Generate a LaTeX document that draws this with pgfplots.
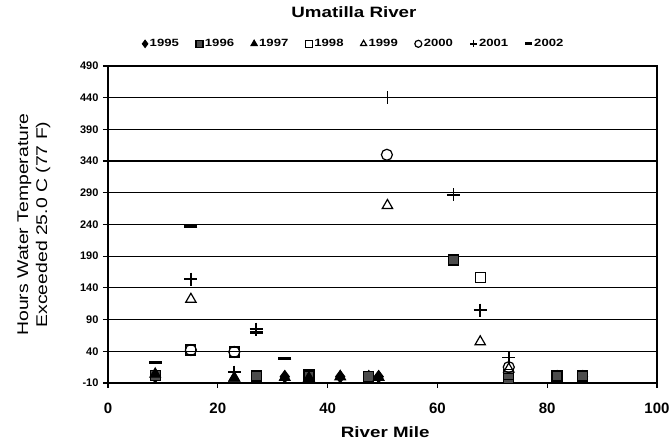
\documentclass[border=0pt]{standalone}
\usepackage{fontspec}
\setmainfont{Liberation Sans}
\newfontfamily\wide[FakeStretch=1.25]{Liberation Sans}
\usepackage{pgfplots}
\pgfplotsset{compat=1.18}

\begin{document}
\begin{tikzpicture}
\begin{axis}[
    scale only axis,
    width=549pt, height=317pt,
    xmin=0, xmax=100,
    ymin=-10, ymax=490,
    xtick={0,20,...,100},
    ytick={-10,40,...,490},
    ymajorgrids=true,
    grid style={black, line width=1.2pt},
    axis line style={line width=1.3pt},
    tick style={black, line width=1.2pt},
    tick align=outside,
    major tick length=5pt,
    xtick pos=bottom, ytick pos=left,
    /pgf/number format/assume math mode=true,
    xticklabel style={font=\fontsize{15}{17}\selectfont\bfseries, yshift=-11pt},
    yticklabel style={font=\fontsize{11}{12}\selectfont\bfseries, xshift=-1pt},
    xlabel={\textbf{River Mile}},
    xlabel style={font=\wide\fontsize{15}{17}\selectfont,
        at={(axis description cs:0.505,-0.155)}, anchor=center},
    ylabel={Hours Water Temperature\\Exceeded 25.0 C (77 F)},
    ylabel style={font=\wide\fontsize{15.5}{19}\selectfont, align=center,
        at={(axis description cs:-0.135,0.5)}, anchor=center},
    title={\textbf{Umatilla River}},
    title style={font=\wide\fontsize{15}{17}\selectfont,
        at={(axis description cs:0.448,1.152)}, anchor=center, yshift=0pt},
    legend style={at={(axis description cs:0.448,1.07)}, anchor=center,
        draw=none, fill=none, legend columns=-1,
        font=\wide\fontsize{10.5}{12}\selectfont\bfseries,
        inner sep=0pt,
        /tikz/every even column/.append style={column sep=15pt}},
    legend image code/.code={\draw[#1, mark size=3.5pt] plot coordinates {(0.08cm,0cm)};},
    only marks,
    mark options={line width=1.2pt},
]
% 1995
\addplot[black, mark=diamond*, mark size=6pt] coordinates {
 (8.6,0) (32.2,0) (42.3,0) (47.5,0) (49.3,0) (81.8,0) (86.5,0)};
% 1996
\addplot[black, mark=square*, fill=black!70, mark size=5pt] coordinates {
 (8.6,2) (27,0) (36.6,4) (47.5,0) (63,185) (73,-3) (81.8,1) (86.5,1)};
% 1997
\addplot[black, mark=triangle*, mark size=6pt] coordinates {
 (8.6,4) (23,-2) (32.2,-1) (36.6,-2) (42.3,0) (49.3,-1)};
% 1998
\addplot[black, mark=square, mark size=5pt] coordinates {
 (15.1,42) (23,39) (27,2) (36.6,1) (63,183) (67.8,157) (73,3)};
% 1999
\addplot[black, mark=triangle, mark size=6pt] coordinates {
 (15.1,122) (23,-2) (50.9,270) (67.8,55) (73,12)};
% 2000
\addplot[black, mark=o, mark size=5.5pt] coordinates {
 (15.1,42) (23,39) (50.8,350) (73,15)};
% 2001
\addplot[black, mark=+, mark size=6.5pt, mark options={line width=1.6pt}] coordinates {
 (15.1,154) (23,7) (27,75) (50.9,440) (62.9,287) (67.8,105) (73,30)};
% 2002
\addplot[black, mark=-, mark size=6.5pt, mark options={line width=3pt}] coordinates {
 (8.6,22) (15.1,237) (27,69) (32.2,28)};
\legend{1995,1996,1997,1998,1999,2000,2001,2002}
\end{axis}
\pgfresetboundingbox
\path (-108pt,-63pt) rectangle (561pt,383pt);
\end{tikzpicture}
\end{document}
